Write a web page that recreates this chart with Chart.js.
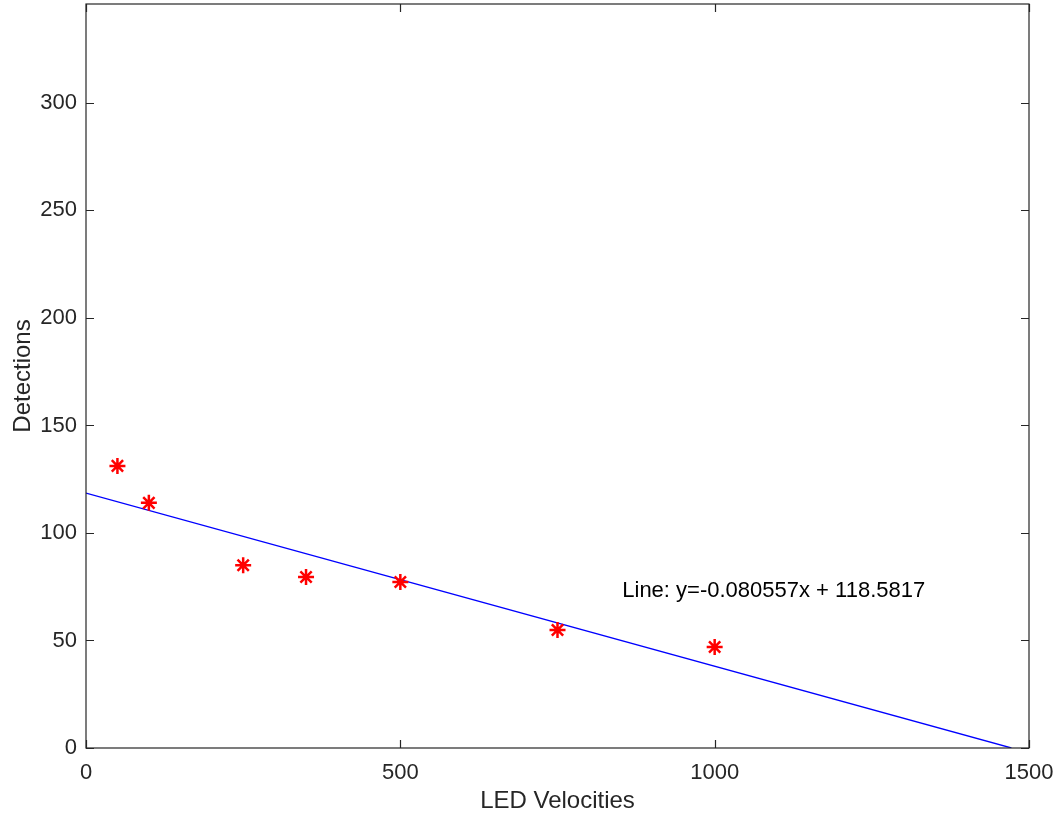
<!DOCTYPE html>
<html>
<head>
<meta charset="utf-8">
<script src="https://cdn.jsdelivr.net/npm/chart.js@4.4.1/dist/chart.umd.min.js"></script>
<style>
  html, body { margin: 0; padding: 0; background: #ffffff; }
  #wrap { width: 1058px; height: 816px; }
</style>
</head>
<body>
<div id="wrap"><canvas id="fitChart" width="1058" height="816"></canvas></div>
<script>
// ── data ──
const velocities = [50, 100, 250, 350, 500, 750, 1000];
const detections = [131.2, 114, 85, 79.5, 77.2, 54.9, 47];

// fitted line end points (x = 0 and where it meets y = 0)
const fitX = [0, 1472];
const fitY = [118.58, 0];

const xTicks = [0, 500, 1000, 1500];
const yTicks = [0, 50, 100, 150, 200, 250, 300];

const fitLabel = 'Line: y=-0.080557x + 118.5817';
const labelAt = { x: 853, y: 73 };

const AXIS_COLOR = '#262626';
const FONT = 'Liberation Sans, Arial, Helvetica, sans-serif';

// kill the label overflow padding so the plot box sits where we want it
function noPad(s) {
  s.paddingTop = 0; s.paddingBottom = 0; s.paddingLeft = 0; s.paddingRight = 0;
}

// box + inward ticks on all four sides, MATLAB style
const boxPlugin = {
  id: 'matlabBox',
  afterDraw(chart) {
    const { ctx, chartArea: a, scales: { x, y } } = chart;
    const len = 8;
    ctx.save();
    ctx.strokeStyle = AXIS_COLOR;
    ctx.lineWidth = 1.2;
    ctx.strokeRect(a.left, a.top, a.right - a.left, a.bottom - a.top);
    ctx.beginPath();
    xTicks.forEach(v => {
      const px = Math.round(x.getPixelForValue(v)) + 0.5;
      ctx.moveTo(px, a.bottom); ctx.lineTo(px, a.bottom - len);
      ctx.moveTo(px, a.top); ctx.lineTo(px, a.top + len);
    });
    yTicks.forEach(v => {
      const py = Math.round(y.getPixelForValue(v)) + 0.5;
      ctx.moveTo(a.left, py); ctx.lineTo(a.left + len, py);
      ctx.moveTo(a.right, py); ctx.lineTo(a.right - len, py);
    });
    ctx.stroke();

    // equation text
    ctx.fillStyle = '#000000';
    ctx.font = '22px ' + FONT;
    ctx.textAlign = 'left';
    ctx.textBaseline = 'middle';
    ctx.fillText(fitLabel, x.getPixelForValue(labelAt.x), y.getPixelForValue(labelAt.y));
    ctx.restore();
  }
};

new Chart(document.getElementById('fitChart'), {
  type: 'scatter',
  data: {
    datasets: [
      {
        label: 'Fit',
        type: 'line',
        data: fitX.map((v, i) => ({ x: v, y: fitY[i] })),
        borderColor: '#0000ff',
        borderWidth: 1.3,
        pointRadius: 0,
        fill: false,
        order: 2
      },
      {
        label: 'Detections',
        data: velocities.map((v, i) => ({ x: v, y: detections[i] })),
        pointStyle: 'star',
        pointRadius: 8,
        pointBorderWidth: 2.5,
        borderColor: '#ff0000',
        backgroundColor: '#ff0000',
        order: 1
      }
    ]
  },
  options: {
    responsive: false,
    animation: false,
    layout: { autoPadding: false, padding: { top: 4, right: 29, left: 0, bottom: 0 } },
    plugins: { legend: { display: false }, tooltip: { enabled: false } },
    scales: {
      x: {
        type: 'linear', min: 0, max: 1500,
        grid: { display: false }, border: { display: false },
        afterBuildTicks: s => { s.ticks = xTicks.map(v => ({ value: v })); },
        afterFit: s => { s.height = 68; noPad(s); },
        ticks: { color: AXIS_COLOR, font: { family: FONT, size: 22 }, padding: 4, maxRotation: 0,
                 callback: v => String(v) },
        title: { display: true, text: 'LED Velocities', color: AXIS_COLOR,
                 font: { family: FONT, size: 24 }, padding: { top: 0, bottom: 0 } }
      },
      y: {
        type: 'linear', min: 0, max: 346,
        grid: { display: false }, border: { display: false },
        afterBuildTicks: s => { s.ticks = yTicks.map(v => ({ value: v })); },
        afterFit: s => { s.width = 86; noPad(s); },
        ticks: { color: AXIS_COLOR, font: { family: FONT, size: 22 }, padding: 1,
                 callback: v => String(v) },
        title: { display: true, text: 'Detections', color: AXIS_COLOR,
                 font: { family: FONT, size: 24 }, padding: { top: 9, bottom: 0 } }
      }
    }
  },
  plugins: [boxPlugin]
});
</script>
</body>
</html>
